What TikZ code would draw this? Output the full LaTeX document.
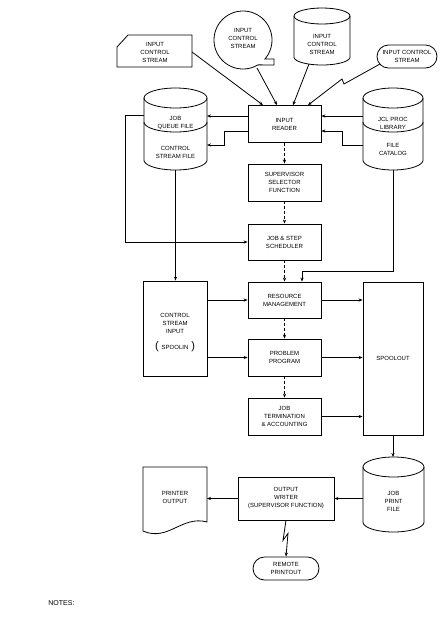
\documentclass[tikz,border=0pt]{standalone}
\usepackage{fontspec}
\setmainfont{Liberation Sans}
\usetikzlibrary{arrows.meta}
\begin{document}
\begin{tikzpicture}[x=1pt,y=-1pt,
 line width=0.8pt,
 txt/.style={font=\fontsize{6}{8}\selectfont, align=center, inner sep=0pt},
 box/.style={draw, txt, minimum width=73pt, minimum height=37pt},
 arr/.style={-{Stealth[length=4pt,width=3.2pt]}},
 darr/.style={arr, dash pattern=on 3pt off 2pt},
]
\useasboundingbox (0,0) rectangle (440,619);

% central boxes
\node[box] (reader) at (284.5,124) {INPUT\\READER};
\node[box] (sup) at (284.5,182.5) {SUPERVISOR\\SELECTOR\\FUNCTION};
\node[box, minimum height=36pt] (sched) at (284.5,242) {JOB \& STEP\\SCHEDULER};
\node[box, minimum height=36pt] (res) at (284.5,300) {RESOURCE\\MANAGEMENT};
\node[box] (prob) at (284.5,357.5) {PROBLEM\\PROGRAM};
\node[box] (term) at (284.5,416.5) {JOB\\TERMINATION\\\& ACCOUNTING};
\node[box, minimum width=64pt, minimum height=95pt] (csi) at (175,328.5) {};
\node[txt] (csit) at (175,323) {CONTROL\\STREAM\\INPUT};
\node[txt] (spoolin) at (175,347) {{\fontsize{11}{11}\selectfont(}\hspace{3pt}SPOOLIN\hspace{3pt}{\fontsize{11}{11}\selectfont)}};
\node[box, minimum width=60pt, minimum height=153pt] (spool) at (393,358.5) {SPOOLOUT};
\node[box, minimum width=96pt, minimum height=43pt] (writer) at (286,498.5) {OUTPUT\\WRITER\\(SUPERVISOR FUNCTION)};
\node[box, minimum width=66pt, minimum height=23pt, rounded corners=11.5pt] (remote) at (286,568.5) {REMOTE\\PRINTOUT};
\node[box, minimum width=60pt, minimum height=23pt, rounded corners=11.5pt] (ics4) at (407,56.5) {INPUT CONTROL\\STREAM};

% punched card
\draw (117,47) -- (128,35) -- (192,35) -- (192,67) -- (117,67) -- cycle;
\node[txt] (ics1) at (155,52) {INPUT\\CONTROL\\STREAM};
\coordinate (card) at (192,52);

% magnetic tape
\draw plot[domain=59:400.8, samples=90] ({243+29*cos(\x)},{40+29*sin(\x)}) -- (274,59) -- (274,65) -- cycle;
\node[txt] (ics2) at (243,38) {INPUT\\CONTROL\\STREAM};
\coordinate (tape) at (257,68);

% disk
\draw (322,16) ellipse [x radius=28pt, y radius=8pt];
\draw (294,16) -- (294,57) -- plot[domain=180:0, samples=40] ({322+28*cos(\x)},{57+8*sin(\x)}) -- (350,16);
\node[txt] (ics3) at (322,44) {INPUT\\CONTROL\\STREAM};
\coordinate (disk) at (309,64);

% left cylinder
\draw (175.5,98) ellipse [x radius=31.5pt, y radius=10pt];
\draw (144,98) -- (144,160) -- plot[domain=180:0, samples=40] ({175.5+31.5*cos(\x)},{160+10*sin(\x)}) -- (207,98);
\draw plot[domain=180:0, samples=40] ({175.5+31.5*cos(\x)},{122+10*sin(\x)});
\node[txt] (jq) at (175.5,123) {JOB\\QUEUE FILE};
\node[txt] (csf) at (175.5,152) {CONTROL\\STREAM FILE};
\coordinate (lq) at (207,116);
\coordinate (lc) at (207,145);
\coordinate (lql) at (144,115);
\coordinate (lcb) at (175.5,170);

% right cylinder
\draw (393,98) ellipse [x radius=30pt, y radius=10pt];
\draw (363,98) -- (363,160) -- plot[domain=180:0, samples=40] ({393+30*cos(\x)},{160+10*sin(\x)}) -- (423,98);
\draw plot[domain=180:0, samples=40] ({393+30*cos(\x)},{122+10*sin(\x)});
\node[txt] (jcl) at (393,123) {JCL PROC\\LIBRARY};
\node[txt] (fc) at (393,149) {FILE\\CATALOG};
\coordinate (rj) at (363,116);
\coordinate (rf) at (363,145);
\coordinate (rcb) at (393,170);

% job print file
\draw (393.5,467) ellipse [x radius=30.5pt, y radius=10pt];
\draw (363,467) -- (363,522) -- plot[domain=180:0, samples=40] ({393.5+30.5*cos(\x)},{522+10*sin(\x)}) -- (424,467);
\node[txt] (jpf) at (393.5,501) {JOB\\PRINT\\FILE};
\coordinate (jpft) at (393,457);
\coordinate (jpfl) at (363,498.5);

% printer output
\draw (143,467) -- (207,467) -- (207,522) .. controls (182,515) and (168,542) .. (143,531) -- cycle;
\node[txt] (po) at (175,497) {PRINTER\\OUTPUT};
\coordinate (prt) at (207,498.5);

% notes
\node[font=\fontsize{7}{8}\selectfont, anchor=west, inner sep=0pt] (notes) at (48,603) {NOTES:};

% connectors: inputs
\draw[arr] (card) -- ([xshift=-21.5pt]reader.north);
\draw[arr] (tape) -- ([xshift=-7.5pt]reader.north);
\draw[arr] (disk) -- ([xshift=8.5pt]reader.north);
\coordinate (ics4b) at (380,64);
\draw[arr] (ics4b) -- (344,84) -- (342,79) -- ([xshift=23.5pt]reader.north);

% reader to/from files
\draw[arr] (reader.west |- lq) -- (lq);
\draw[arr] ([yshift=-7pt]reader.west) -- ++(-23,0) |- (lc);
\draw[arr] (rj) -- (reader.east |- rj);
\draw[arr] (rf) -- ++(-21,0) |- ([yshift=-7pt]reader.east);
\draw[arr] (lql) -- ++(-19,0) |- (sched.west);
\draw[arr] (lcb) -- (lcb |- csi.north);
\draw[arr] (rcb) -- ++(0,101) -| ([xshift=17.5pt]res.north);

% dashed control flow
\draw[darr] (reader.south) -- (sup.north);
\draw[darr] (sup.south) -- (sched.north);
\draw[darr] (sched.south) -- (res.north);
\draw[darr] (res.south) -- (prob.north);
\draw[darr] (prob.south) -- (term.north);

% spool flows
\draw[arr] (csi.east |- res.west) -- (res.west);
\draw[arr] (csi.east |- prob.west) -- (prob.west);
\draw[arr] (res.east) -- (spool.west |- res.east);
\draw[arr] (prob.east) -- (spool.west |- prob.east);
\draw[arr] (term.east) -- (spool.west |- term.east);
\draw[arr] (spool.south) -- (jpft);
\draw[arr] (jpfl) -- (writer.east);
\draw[arr] (writer.west) -- (prt);
\draw[arr] (writer.south) -- ++(-3,20) -- ++(5,-7) -- (remote.north);
\end{tikzpicture}
\end{document}
